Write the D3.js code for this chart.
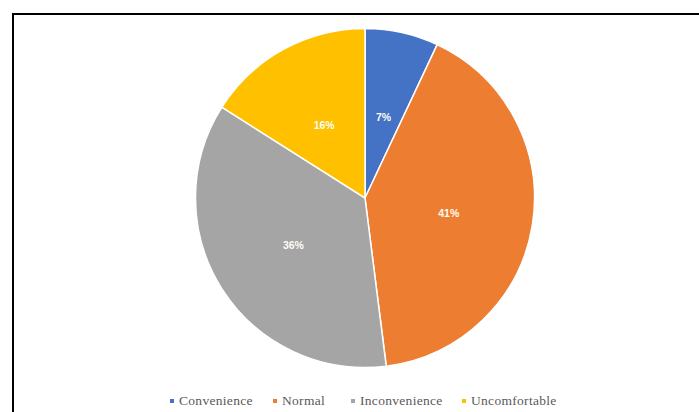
<!DOCTYPE html>
<html>
<head>
<meta charset="utf-8">
<script src="https://cdn.jsdelivr.net/npm/d3@7/dist/d3.min.js"></script>
<style>
  html, body { margin: 0; padding: 0; background: #fff; }
  svg { display: block; }
</style>
</head>
<body>
<svg id="chart" width="699" height="412"></svg>
<script>
// Share of responses per comfort category (percent)
const categories = ["Convenience", "Normal", "Inconvenience", "Uncomfortable"];
const values = [7, 41, 36, 16];
const colors = ["#4472C4", "#ED7D31", "#A5A5A5", "#FFC000"];

const svg = d3.select("#chart");
const W = 699, H = 412;

// frame around the chart area (top and left edges visible in the crop)
svg.append("path")
  .attr("d", `M13,${H} L13,14 L${W},14`)
  .attr("fill", "none")
  .attr("stroke", "#000")
  .attr("stroke-width", 2);

const cx = 365, cy = 198, r = 169.5;

const pie = d3.pie().sort(null).value(d => d.value);
const arcs = pie(categories.map((c, i) => ({ name: c, value: values[i], color: colors[i] })));

const arc = d3.arc().innerRadius(0).outerRadius(r);
const labelArc = d3.arc().innerRadius(r * 0.5).outerRadius(r * 0.5);

const g = svg.append("g").attr("transform", `translate(${cx},${cy})`);

g.selectAll("path.slice")
  .data(arcs)
  .join("path")
  .attr("class", "slice")
  .attr("d", arc)
  .attr("fill", d => d.data.color)
  .attr("stroke", "#fff")
  .attr("stroke-width", 1.5);

g.selectAll("text.lbl")
  .data(arcs)
  .join("text")
  .attr("class", "lbl")
  .attr("transform", d => {
    const [x, y] = labelArc.centroid(d);
    return `translate(${x},${y + 2})`;
  })
  .attr("text-anchor", "middle")
  .attr("dy", "0.35em")
  .attr("fill", "#fdfdf5")
  .style("font-family", "'Liberation Sans', Arial, sans-serif")
  .style("font-weight", "bold")
  .style("font-size", "10.5px")
  .text(d => d.data.value + "%");

// legend along the bottom
const legendX = [172, 275, 353, 464];
const legend = svg.append("g");
const items = legend.selectAll("g.item")
  .data(categories)
  .join("g")
  .attr("class", "item")
  .attr("transform", (d, i) => `translate(${legendX[i]},401)`);

items.append("rect")
  .attr("x", -2).attr("y", -2)
  .attr("width", 4).attr("height", 4)
  .attr("fill", (d, i) => colors[i]);

items.append("text")
  .attr("x", 7)
  .attr("y", 4)
  .attr("fill", "#595959")
  .style("font-family", "'Liberation Serif', 'Times New Roman', serif")
  .style("font-size", "13.5px")
  .style("letter-spacing", "0.3px")
  .text(d => d);
</script>
</body>
</html>
